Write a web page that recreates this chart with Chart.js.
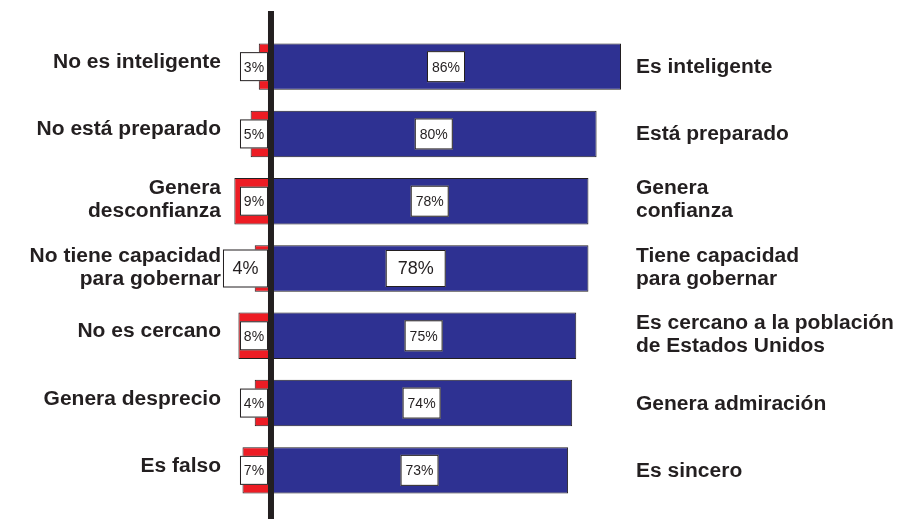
<!DOCTYPE html>
<html>
<head>
<meta charset="utf-8">
<script src="https://cdn.jsdelivr.net/npm/chart.js@4"></script>
<style>
  html, body { margin: 0; padding: 0; background: #ffffff; }
  #wrap { width: 897px; height: 519px; position: relative; }
</style>
</head>
<body>
<div id="wrap"><canvas id="attrChart"></canvas></div>
<script>
// Data
const negativeLabels = [
    ["No es inteligente"],
    ["No está preparado"],
    ["Genera", "desconfianza"],
    ["No tiene capacidad", "para gobernar"],
    ["No es cercano"],
    ["Genera desprecio"],
    ["Es falso"]
];
const positiveLabels = [
    ["Es inteligente"],
    ["Está preparado"],
    ["Genera", "confianza"],
    ["Tiene capacidad", "para gobernar"],
    ["Es cercano a la población", "de Estados Unidos"],
    ["Genera admiración"],
    ["Es sincero"]
];
const negativeValues = [3, 5, 9, 4, 8, 4, 7];
const positiveValues = [86, 80, 78, 78, 75, 74, 73];

const textColor = '#231f20';
const fontFamily = '"Liberation Sans", Arial, sans-serif';
const bigRow = 3; // the "capacidad" row has larger value boxes

// text drawn a bit wider than the font, like the original artwork
function stretchedText(c, t, x, y, align) {
    const sx = 1.05;
    const w = c.measureText(t).width * sx;
    c.save();
    c.translate(align === 'right' ? x - w : x, y);
    c.scale(sx, 1);
    c.textAlign = 'left';
    c.fillText(t, 0, 0);
    c.restore();
}

// Draws the vertical axis, the value boxes and the side labels
const labelsPlugin = {
    id: 'labelsPlugin',
    afterDatasetsDraw(chart) {
        const c = chart.ctx;
        const x = chart.scales.x;
        const zero = x.getPixelForValue(0);

        // vertical black axis
        c.save();
        c.fillStyle = textColor;
        c.fillRect(zero - 3, 11, 6, chart.height - 11);

        const blueMeta = chart.getDatasetMeta(1);

        blueMeta.data.forEach((bar, i) => {
            const big = i === bigRow;
            const cy = bar.y;
            c.font = (big ? '18px ' : '14px ') + fontFamily;
            c.textAlign = 'center';
            c.textBaseline = 'middle';

            // blue value box
            const bw = big ? 60 : 38, bh = big ? 37 : 31;
            let bx = (zero + bar.x) / 2 - bw / 2;
            if (big) bx -= 14;
            c.fillStyle = '#ffffff';
            c.fillRect(bx, cy - bh / 2, bw, bh);
            c.strokeStyle = textColor;
            c.lineWidth = 1;
            c.strokeRect(bx + 0.5, cy - bh / 2 + 0.5, bw - 1, bh - 1);
            c.fillStyle = textColor;
            c.fillText(positiveValues[i] + '%', bx + bw / 2, cy + 1);

            // red value box, touching the axis
            const rw = big ? 45 : 28, rh = big ? 38 : 29;
            const rx = zero - 3 - rw;
            c.fillStyle = '#ffffff';
            c.fillRect(rx, cy - rh / 2, rw, rh);
            c.strokeRect(rx + 0.5, cy - rh / 2 + 0.5, rw - 1, rh - 1);
            c.fillStyle = textColor;
            c.fillText(negativeValues[i] + '%', rx + rw / 2, cy + 1);

            // category texts
            c.font = 'bold 20px ' + fontFamily;
            const lineH = 23;
            const left = negativeLabels[i];
            left.forEach((t, k) => {
                const y = cy - (left.length - 1) * lineH / 2 + k * lineH - (left.length > 1 ? 1 : 4);
                stretchedText(c, t, 221, y, 'right');
            });
            const right = positiveLabels[i];
            right.forEach((t, k) => {
                const y = cy - (right.length - 1) * lineH / 2 + k * lineH + (right.length > 1 ? -1 : 1);
                stretchedText(c, t, 636, y, 'left');
            });
        });
        c.restore();
    }
};

new Chart(document.getElementById('attrChart'), {
    type: 'bar',
    data: {
        labels: positiveLabels.map(l => l.join(' ')),
        datasets: [
            {
                data: negativeValues.map(v => -v),
                backgroundColor: '#ed1c24',
                borderColor: textColor,
                borderWidth: 1,
                borderSkipped: false
            },
            {
                data: positiveValues,
                backgroundColor: '#2e3192',
                borderColor: textColor,
                borderWidth: 1,
                borderSkipped: false
            }
        ]
    },
    options: {
        indexAxis: 'y',
        responsive: true,
        maintainAspectRatio: false,
        animation: false,
        layout: { padding: { left: 0, right: 0, top: 33, bottom: 15 } },
        scales: {
            x: { stacked: true, display: false, min: -66.58, max: 153.81 },
            y: { stacked: true, display: false }
        },
        datasets: { bar: { categoryPercentage: 1, barPercentage: 0.69 } },
        plugins: {
            legend: { display: false },
            tooltip: { enabled: false }
        }
    },
    plugins: [labelsPlugin]
});
</script>
</body>
</html>
